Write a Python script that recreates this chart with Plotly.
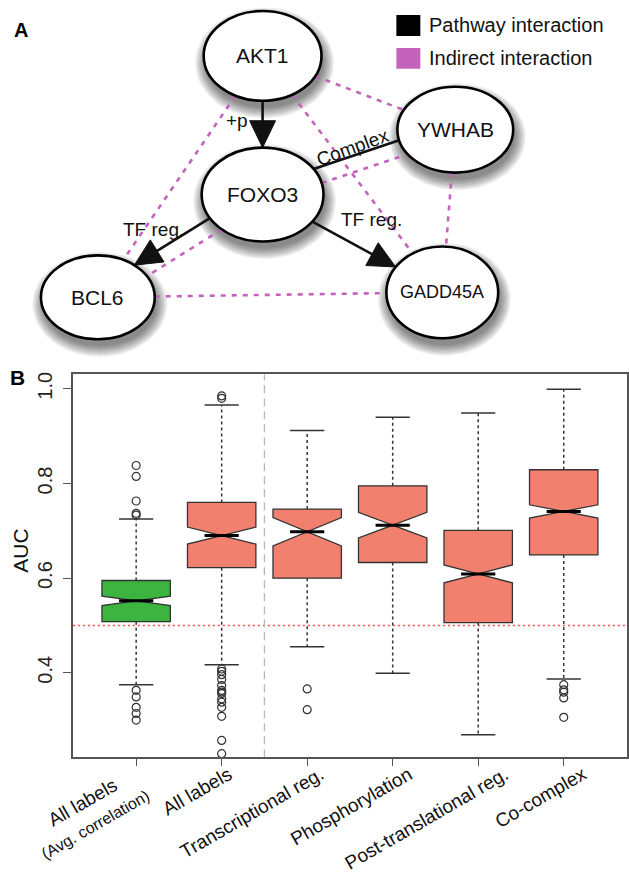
import numpy as np
import plotly.graph_objects as go

W, H = 629, 877
FONT = "Liberation Sans, Arial, Helvetica, sans-serif"

# ---------------- Panel A: network data ----------------
node_names = ["AKT1", "FOXO3", "YWHAB", "BCL6", "GADD45A"]
node_x = [263, 263, 456, 98, 443]
node_y = [54, 193, 128, 296, 291]
node_rx = [59, 61, 58, 57, 56]
node_ry = [45, 47, 43, 42, 46]
node_font = [21, 21, 21, 21, 18]

# (source, target, label, directed)
pathway_edges = [
    ("AKT1", "FOXO3", "+p", True),
    ("FOXO3", "BCL6", "TF reg.", True),
    ("FOXO3", "GADD45A", "TF reg.", True),
    ("FOXO3", "YWHAB", "Complex", False),
]
indirect_edges = [
    ("AKT1", "BCL6"), ("AKT1", "GADD45A"), ("AKT1", "YWHAB"),
    ("FOXO3", "YWHAB"), ("FOXO3", "BCL6"), ("YWHAB", "GADD45A"),
    ("BCL6", "GADD45A"),
]
legend_labels = ["Pathway interaction", "Indirect interaction"]

# ---------------- Panel B: boxplot data ----------------
categories = ["All labels<br><span style='font-size:16px'>(Avg. correlation)</span>",
              "All labels", "Transcriptional reg.", "Phosphorylation",
              "Post-translational reg.", "Co-complex"]
q1 = [0.508, 0.622, 0.600, 0.633, 0.506, 0.649]
median = [0.552, 0.690, 0.698, 0.712, 0.609, 0.741]
q3 = [0.595, 0.760, 0.746, 0.795, 0.701, 0.829]
notch = [0.010, 0.018, 0.030, 0.027, 0.019, 0.014]
whisk_lo = [0.375, 0.417, 0.455, 0.399, 0.269, 0.387]
whisk_hi = [0.725, 0.966, 0.912, 0.940, 0.949, 0.999]
outliers = [
    [0.838, 0.815, 0.763, 0.737, 0.733, 0.363, 0.349, 0.327, 0.314, 0.300],
    [0.985, 0.980, 0.408, 0.403, 0.396, 0.386, 0.373, 0.363, 0.359, 0.356,
     0.345, 0.338, 0.327, 0.308, 0.257, 0.229],
    [0.366, 0.322],
    [],
    [],
    [0.375, 0.364, 0.359, 0.347, 0.306],
]
ytick_vals = [0.4, 0.6, 0.8, 1.0]
ytick_text = ["0.4", "0.6", "0.8", "1.0"]

GREEN = "#3DB43F"
SALMON = "#F2806F"
PINK = "#C463BC"
EDGE_BLACK = "#111111"

fig = go.Figure()
shapes = []
annotations = []

# ---------------- Panel A drawing ----------------
PA_H = 372
idx = {n: i for i, n in enumerate(node_names)}


def center(n):
    i = idx[n]
    return np.array([node_x[i], node_y[i]], dtype=float)


def enter_point(p0, p1, n):
    i = idx[n]
    c = center(n)
    rx, ry = node_rx[i], node_ry[i]
    d = p1 - p0
    f = p0 - c
    a = (d[0] / rx) ** 2 + (d[1] / ry) ** 2
    b = 2 * (f[0] * d[0] / rx ** 2 + f[1] * d[1] / ry ** 2)
    cc = (f[0] / rx) ** 2 + (f[1] / ry) ** 2 - 1
    t = (-b - np.sqrt(b * b - 4 * a * cc)) / (2 * a)
    return p0 + t * d


def perp_up(p0, p1):
    d = p1 - p0
    n = np.array([-d[1], d[0]]) / np.hypot(*d)
    if n[1] > 0:
        n = -n
    return n


# soft drop shadows under the nodes (drawn first, as filled traces)
theta = np.linspace(0, 2 * np.pi, 73)
for i, n in enumerate(node_names):
    cx, cy, rx, ry = node_x[i], node_y[i], node_rx[i], node_ry[i]
    for k in range(8):
        g = k * 1.5
        sx = cx + 2 + (rx + g) * np.cos(theta)
        sy = cy + 7 + (ry + g) * np.sin(theta)
        fig.add_trace(go.Scatter(x=sx, y=sy, mode="lines", fill="toself",
                                 fillcolor="rgba(0,0,0,0.07)", line=dict(width=0),
                                 xaxis="x2", yaxis="y2", hoverinfo="skip", showlegend=False))

pairs_pathway = {frozenset((s, t)) for s, t, _, _ in pathway_edges}
pairs_indirect = {frozenset(e) for e in indirect_edges}
OFF = 8

# indirect (pink dashed) edges
px, py = [], []
for s, t in indirect_edges:
    p0, p1 = center(s), center(t)
    off = np.zeros(2)
    if frozenset((s, t)) in pairs_pathway:
        off = -OFF * perp_up(p0, p1)
    a = enter_point(p1 + off, p0 + off, s)
    b = enter_point(p0 + off, p1 + off, t)
    px += [a[0], b[0], None]
    py += [a[1], b[1], None]
fig.add_trace(go.Scatter(x=px, y=py, mode="lines", xaxis="x2", yaxis="y2",
                         line=dict(color=PINK, width=2.6, dash="5px,6px"),
                         hoverinfo="skip", showlegend=False))

# pathway (black) edges
bx, by = [], []
AH_L, AH_W = 27, 26
for s, t, lab, directed in pathway_edges:
    p0, p1 = center(s), center(t)
    off = np.zeros(2)
    if frozenset((s, t)) in pairs_indirect:
        off = OFF * perp_up(p0, p1)
    a = enter_point(p1 + off, p0 + off, s)
    b = enter_point(p0 + off, p1 + off, t)
    u = (b - a) / np.hypot(*(b - a))
    end = b - (AH_L - 2) * u if directed else b
    bx += [a[0], end[0], None]
    by += [a[1], end[1], None]
    if directed:
        nrm = np.array([-u[1], u[0]])
        base = b - AH_L * u
        c1 = base + nrm * AH_W / 2
        c2 = base - nrm * AH_W / 2
        fig.add_trace(go.Scatter(x=[b[0], c1[0], c2[0], b[0]], y=[b[1], c1[1], c2[1], b[1]],
                                 mode="lines", fill="toself", fillcolor=EDGE_BLACK,
                                 line=dict(color=EDGE_BLACK, width=1), xaxis="x2", yaxis="y2",
                                 hoverinfo="skip", showlegend=False))
fig.add_trace(go.Scatter(x=bx, y=by, mode="lines", xaxis="x2", yaxis="y2",
                         line=dict(color=EDGE_BLACK, width=2.6),
                         hoverinfo="skip", showlegend=False))

# node ellipses on top
for i, n in enumerate(node_names):
    cx, cy, rx, ry = node_x[i], node_y[i], node_rx[i], node_ry[i]
    shapes.append(dict(type="circle", xref="x2", yref="y2", layer="above",
                       x0=cx - rx, x1=cx + rx, y0=cy - ry, y1=cy + ry,
                       line=dict(color="black", width=2.6), fillcolor="white"))
    annotations.append(dict(x=cx, y=cy, xref="x2", yref="y2", text=n, showarrow=False,
                            font=dict(family=FONT, size=node_font[i], color="#111")))

# edge labels
edge_label_pos = {"+p": (237, 119, 0), "Complex": (353, 146, -20)}
tf_pos = [(154, 228), (372, 218)]
tf_i = 0
for s, t, lab, _ in pathway_edges:
    if lab == "TF reg.":
        x, y = tf_pos[tf_i]
        tf_i += 1
        ang = 0
    else:
        x, y, ang = edge_label_pos[lab]
    annotations.append(dict(x=x, y=y, xref="x2", yref="y2", text=lab, showarrow=False,
                            textangle=ang, font=dict(family=FONT, size=19, color="#111")))

# legend
leg_colors = ["black", PINK]
for k, lab in enumerate(legend_labels):
    y0 = 13 + k * 33
    shapes.append(dict(type="rect", xref="x2", yref="y2", x0=397, x1=421, y0=y0, y1=y0 + 21,
                       line=dict(width=0), fillcolor=leg_colors[k], layer="above"))
    annotations.append(dict(x=428, y=y0 + 10.5, xref="x2", yref="y2", text=lab,
                            showarrow=False, xanchor="left",
                            font=dict(family=FONT, size=20, color="#111")))

annotations.append(dict(x=12, y=28, xref="x2", yref="y2", text="<b>A</b>", showarrow=False,
                        xanchor="left", font=dict(family=FONT, size=20, color="black")))

# ---------------- Panel B drawing ----------------
pos = list(range(1, len(categories) + 1))
for grp, col in [([0], GREEN), (list(range(1, 6)), SALMON)]:
    fig.add_trace(go.Box(
        x=[pos[i] for i in grp], q1=[q1[i] for i in grp], median=[median[i] for i in grp],
        q3=[q3[i] for i in grp], lowerfence=[q1[i] for i in grp], upperfence=[q3[i] for i in grp],
        notchspan=[notch[i] for i in grp], notched=True, notchwidth=0.5, width=0.8,
        orientation="v", fillcolor=col, line=dict(color="#333333", width=1.3),
        whiskerwidth=0, boxpoints=False, hoverinfo="skip", showlegend=False))

# thick medians
mx, my = [], []
for i, p in enumerate(pos):
    mx += [p - 0.2, p + 0.2, None]
    my += [median[i], median[i], None]
fig.add_trace(go.Scatter(x=mx, y=my, mode="lines", line=dict(color="black", width=3),
                         hoverinfo="skip", showlegend=False))

# dotted whiskers
wx, wy = [], []
for i, p in enumerate(pos):
    wx += [p, p, None, p, p, None]
    wy += [q3[i], whisk_hi[i], None, q1[i], whisk_lo[i], None]
fig.add_trace(go.Scatter(x=wx, y=wy, mode="lines",
                         line=dict(color="#333333", width=1.5, dash="3px,3px"),
                         hoverinfo="skip", showlegend=False))
# caps
cx_, cy_ = [], []
for i, p in enumerate(pos):
    cx_ += [p - 0.2, p + 0.2, None, p - 0.2, p + 0.2, None]
    cy_ += [whisk_hi[i], whisk_hi[i], None, whisk_lo[i], whisk_lo[i], None]
fig.add_trace(go.Scatter(x=cx_, y=cy_, mode="lines", line=dict(color="#333333", width=1.5),
                         hoverinfo="skip", showlegend=False))

# outliers
ox, oy = [], []
for i, p in enumerate(pos):
    ox += [p] * len(outliers[i])
    oy += outliers[i]
fig.add_trace(go.Scatter(x=ox, y=oy, mode="markers",
                         marker=dict(symbol="circle-open", size=8, color="#333333",
                                     line=dict(width=1.2)),
                         hoverinfo="skip", showlegend=False))

# reference lines
shapes.append(dict(type="line", xref="x domain", yref="y", x0=0, x1=1, y0=0.5, y1=0.5,
                   line=dict(color="#F0503C", width=1.6, dash="2px,3px"), layer="below"))
shapes.append(dict(type="line", xref="x", yref="y domain", x0=2.5, x1=2.5, y0=0, y1=1,
                   line=dict(color="#B4B8C4", width=1.3, dash="8px,5px"), layer="below"))

# category labels (rotated, right end just right of each tick)
label_shift = [20, 16, 23, 25, 36, 29]
for i, p in enumerate(pos):
    annotations.append(dict(x=p, y=1 - 760 / H, xref="x", yref="paper", text=categories[i],
                            showarrow=False, xanchor="right", yanchor="top", textangle=-30,
                            xshift=label_shift[i], font=dict(family=FONT, size=19, color="#111")))

annotations.append(dict(x=21 / W, y=1 - 550 / H, xref="paper", yref="paper", text="AUC",
                        showarrow=False, textangle=-90, xanchor="center", yanchor="middle",
                        font=dict(family=FONT, size=21, color="#111")))
annotations.append(dict(x=18 / W, y=1 - 376 / H, xref="paper", yref="paper", text="<b>B</b>",
                        showarrow=False, xanchor="center", yanchor="middle",
                        font=dict(family=FONT, size=21, color="black")))

fig.update_layout(
    width=W, height=H, margin=dict(l=0, r=0, t=0, b=0),
    paper_bgcolor="white", plot_bgcolor="white", boxmode="overlay",
    showlegend=False, shapes=shapes, annotations=annotations,
    xaxis=dict(domain=[73 / W, 628 / W], range=[0.26, 6.74], anchor="y",
               showline=True, mirror=True, linecolor="#555", linewidth=1.5,
               ticks="outside", ticklen=7, tickcolor="#555", tickwidth=1.3,
               tickvals=pos, showticklabels=False, showgrid=False, zeroline=False),
    yaxis=dict(domain=[1 - 757 / H, 1 - 373 / H], range=[0.2215, 1.031], anchor="x",
               showline=True, mirror=True, linecolor="#555", linewidth=1.5,
               ticks="outside", ticklen=8, tickcolor="#555", tickwidth=1.3,
               tickvals=ytick_vals, ticktext=ytick_text, tickangle=-90,
               ticklabelstandoff=3,
               tickfont=dict(family=FONT, size=20, color="#222"),
               showgrid=False, zeroline=False),
    xaxis2=dict(domain=[0, 1], range=[0, W], anchor="y2", visible=False, fixedrange=True),
    yaxis2=dict(domain=[1 - PA_H / H, 1], range=[PA_H, 0], anchor="x2", visible=False,
                fixedrange=True),
)

fig.write_html("out.html", config={"displayModeBar": False},
               post_script="document.body.style.margin='0';"
               "document.body.style.overflow='hidden';")
